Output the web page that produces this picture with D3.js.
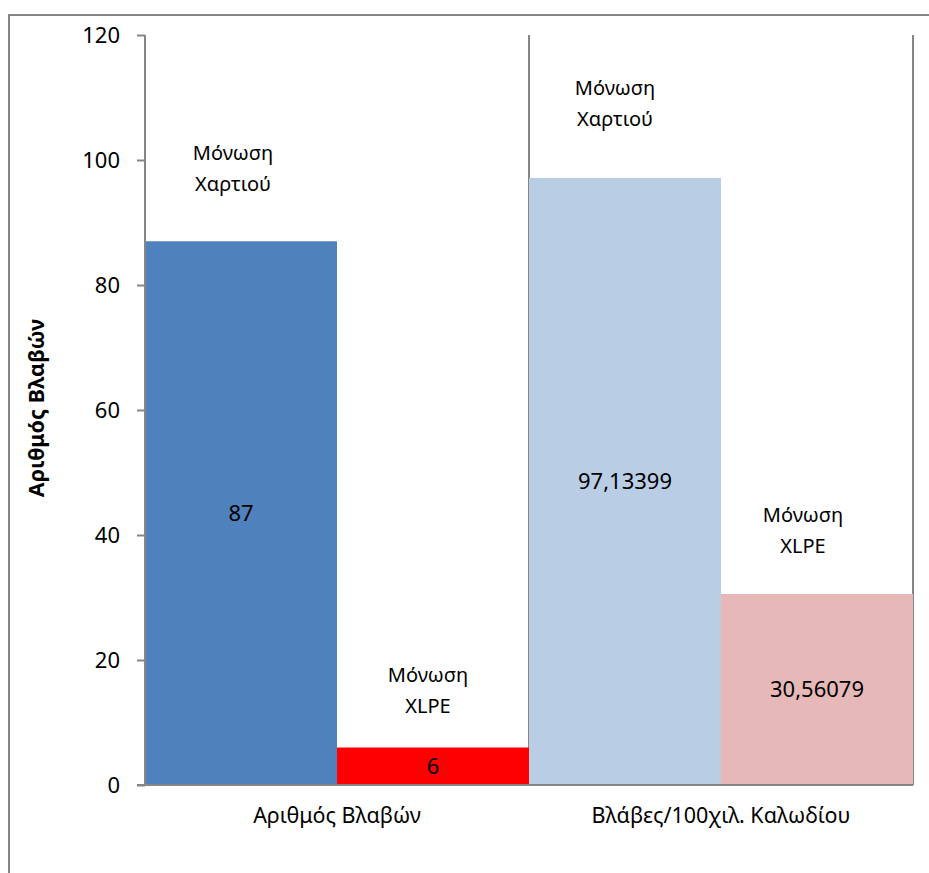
<!DOCTYPE html>
<html>
<head>
<meta charset="utf-8">
<script src="https://cdn.jsdelivr.net/npm/d3@7"></script>
<style>
  html, body { margin: 0; padding: 0; background: #fff; }
  svg { display: block; font-family: "Noto Sans", "Open Sans", sans-serif; }
</style>
</head>
<body>
<svg id="chart" width="929" height="873"></svg>
<script>
// Cable faults: paper insulation vs XLPE insulation
const categories = ["Αριθμός Βλαβών", "Βλάβες/100χιλ. Καλωδίου"];
const seriesNames = ["Μόνωση Χαρτιού", "Μόνωση XLPE"];
const paperValues = [87, 97.13399];
const xlpeValues = [6, 30.56079];
const valueLabels = [["87", "6"], ["97,13399", "30,56079"]];
const yTicks = [0, 20, 40, 60, 80, 100, 120];
const yTitle = "Αριθμός Βλαβών";

// fill colours per category (rows) and series (columns)
const fills = [["#4F81BD", "#FF0000"], ["#B9CDE5", "#E6B9B8"]];
// nudges for the series-name labels above the bars [dx, gap above bar top]
const nameNudges = [[-8, 50], [-5, 35], [-10, 52], [-14, 41]];

const svg = d3.select("#chart");
const W = 929, H = 873;
const margin = { left: 145, right: 16, top: 35, bottom: 88 };
const plotW = W - margin.left - margin.right;
const plotH = H - margin.top - margin.bottom;

// outer chart border (runs off the right and bottom edges)
svg.append("rect")
  .attr("x", 9).attr("y", 15)
  .attr("width", W).attr("height", H)
  .attr("fill", "none").attr("stroke", "#868686").attr("stroke-width", 2);

const g = svg.append("g").attr("transform", `translate(${margin.left},${margin.top})`);

const x0 = d3.scaleBand().domain(categories).range([0, plotW]).paddingInner(0).paddingOuter(0);
const x1 = d3.scaleBand().domain(seriesNames).range([0, x0.bandwidth()]).padding(0);
const y = d3.scaleLinear().domain([0, 120]).range([plotH, 0]);

// category boundary lines
const bounds = categories.map(c => x0(c) + x0.bandwidth());
g.selectAll("line.sep").data(bounds).enter().append("line")
  .attr("class", "sep")
  .attr("x1", d => d).attr("x2", d => d)
  .attr("y1", y(120)).attr("y2", y(0))
  .attr("stroke", "#868686").attr("stroke-width", 2);

const rows = categories.map((c, i) => ({
  cat: c,
  vals: [paperValues[i], xlpeValues[i]],
  labels: valueLabels[i],
  fills: fills[i]
}));

const groups = g.selectAll("g.cat").data(rows).enter().append("g")
  .attr("class", "cat")
  .attr("transform", d => `translate(${x0(d.cat)},0)`);

groups.each(function (d, ci) {
  const grp = d3.select(this);
  seriesNames.forEach((s, si) => {
    const v = d.vals[si];
    const bx = x1(s), bw = x1.bandwidth();
    grp.append("rect")
      .attr("x", bx).attr("y", y(v))
      .attr("width", bw).attr("height", y(0) - y(v))
      .attr("fill", d.fills[si]);
    // value label in the middle of the bar
    grp.append("text")
      .attr("x", bx + bw / 2)
      .attr("y", (y(v) + y(0)) / 2)
      .attr("dy", "0.35em")
      .attr("text-anchor", "middle")
      .attr("font-size", 22)
      .attr("fill", "#000")
      .text(d.labels[si]);
    // series name above the bar, on two lines
    const nudge = nameNudges[ci * 2 + si];
    const parts = s.split(" ");
    const cx = bx + bw / 2 + nudge[0];
    const bottom = y(v) - nudge[1];
    const t = grp.append("text")
      .attr("text-anchor", "middle")
      .attr("font-size", 20)
      .attr("fill", "#000");
    parts.forEach((p, pi) => {
      t.append("tspan")
        .attr("x", cx)
        .attr("y", bottom - (parts.length - 1 - pi) * 31)
        .text(p);
    });
  });
});

// y axis
const yAxis = d3.axisLeft(y).tickValues(yTicks).tickSize(8).tickPadding(17).tickFormat(d3.format("d"));
const ya = g.append("g").call(yAxis);
ya.select(".domain").attr("stroke", "#868686").attr("stroke-width", 2).attr("d", `M0,${y(120)}V${y(0)}`);
ya.selectAll(".tick line").attr("stroke", "#868686").attr("stroke-width", 2);
ya.selectAll(".tick text").attr("font-size", 22).attr("fill", "#000").attr("font-family", "Noto Sans, sans-serif");

// x axis
const xAxis = d3.axisBottom(x0).tickSize(0).tickPadding(23);
const xa = g.append("g").attr("transform", `translate(0,${plotH})`).call(xAxis);
xa.select(".domain").attr("stroke", "#868686").attr("stroke-width", 2).attr("d", `M-8,0H${plotW}`);
xa.selectAll(".tick text").attr("font-size", 21.5).attr("fill", "#000").attr("font-family", "Noto Sans, sans-serif");

// y axis title
svg.append("text")
  .attr("transform", `translate(36,${margin.top + y(60) - 2}) rotate(-90)`)
  .attr("text-anchor", "middle")
  .attr("dy", "0.35em")
  .attr("font-size", 21.5)
  .attr("font-weight", "bold")
  .attr("fill", "#000")
  .text(yTitle);
</script>
</body>
</html>
